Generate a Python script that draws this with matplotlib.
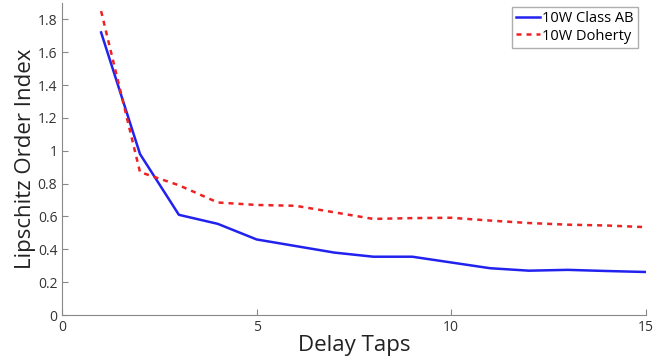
import matplotlib.pyplot as plt

plt.rcParams['font.family'] = ['Open Sans', 'DejaVu Sans']

taps = [1, 2, 3, 4, 5, 6, 7, 8, 9, 10, 11, 12, 13, 14, 15]
class_ab = [1.72, 0.98, 0.61, 0.555, 0.46, 0.42, 0.38, 0.355, 0.355, 0.32, 0.285, 0.27, 0.275, 0.268, 0.262]
doherty = [1.85, 0.87, 0.79, 0.685, 0.67, 0.665, 0.625, 0.585, 0.59, 0.592, 0.575, 0.56, 0.55, 0.545, 0.535]

fig = plt.figure(figsize=(6.69, 3.58), dpi=100)
ax = fig.add_axes([0.093, 0.12, 0.872, 0.872])

ax.plot(taps, class_ab, color='#2222ee', lw=1.8, label='10W Class AB')
ax.plot(taps, doherty, color='#ee2222', lw=1.8, ls=(0, (2, 2)), label='10W Doherty')

ax.set_xlim(0, 15)
ax.set_ylim(0, 1.9)
ax.set_xticks([0, 5, 10, 15])
ax.set_yticks([0, 0.2, 0.4, 0.6, 0.8, 1, 1.2, 1.4, 1.6, 1.8])
ax.set_yticklabels(['0', '0.2', '0.4', '0.6', '0.8', '1', '1.2', '1.4', '1.6', '1.8'])
ax.tick_params(direction='in', length=4, color='#888888', labelsize=10, labelcolor='#333333')
for s in ['top', 'right']:
    ax.spines[s].set_visible(False)
for s in ['left', 'bottom']:
    ax.spines[s].set_color('#888888')

ax.set_xlabel('Delay Taps', fontsize=16, color='#222222', labelpad=0)
ax.set_ylabel('Lipschitz Order Index', fontsize=16, color='#222222', labelpad=1)

leg = ax.legend(loc='upper right', fontsize=10.5, handlelength=1.6, handletextpad=0.2,
                fancybox=False, borderpad=0.3, labelspacing=0.15, bbox_to_anchor=(1.0, 1.01))
leg.get_frame().set_edgecolor('#999999')

fig.savefig('out.png', dpi=100)
